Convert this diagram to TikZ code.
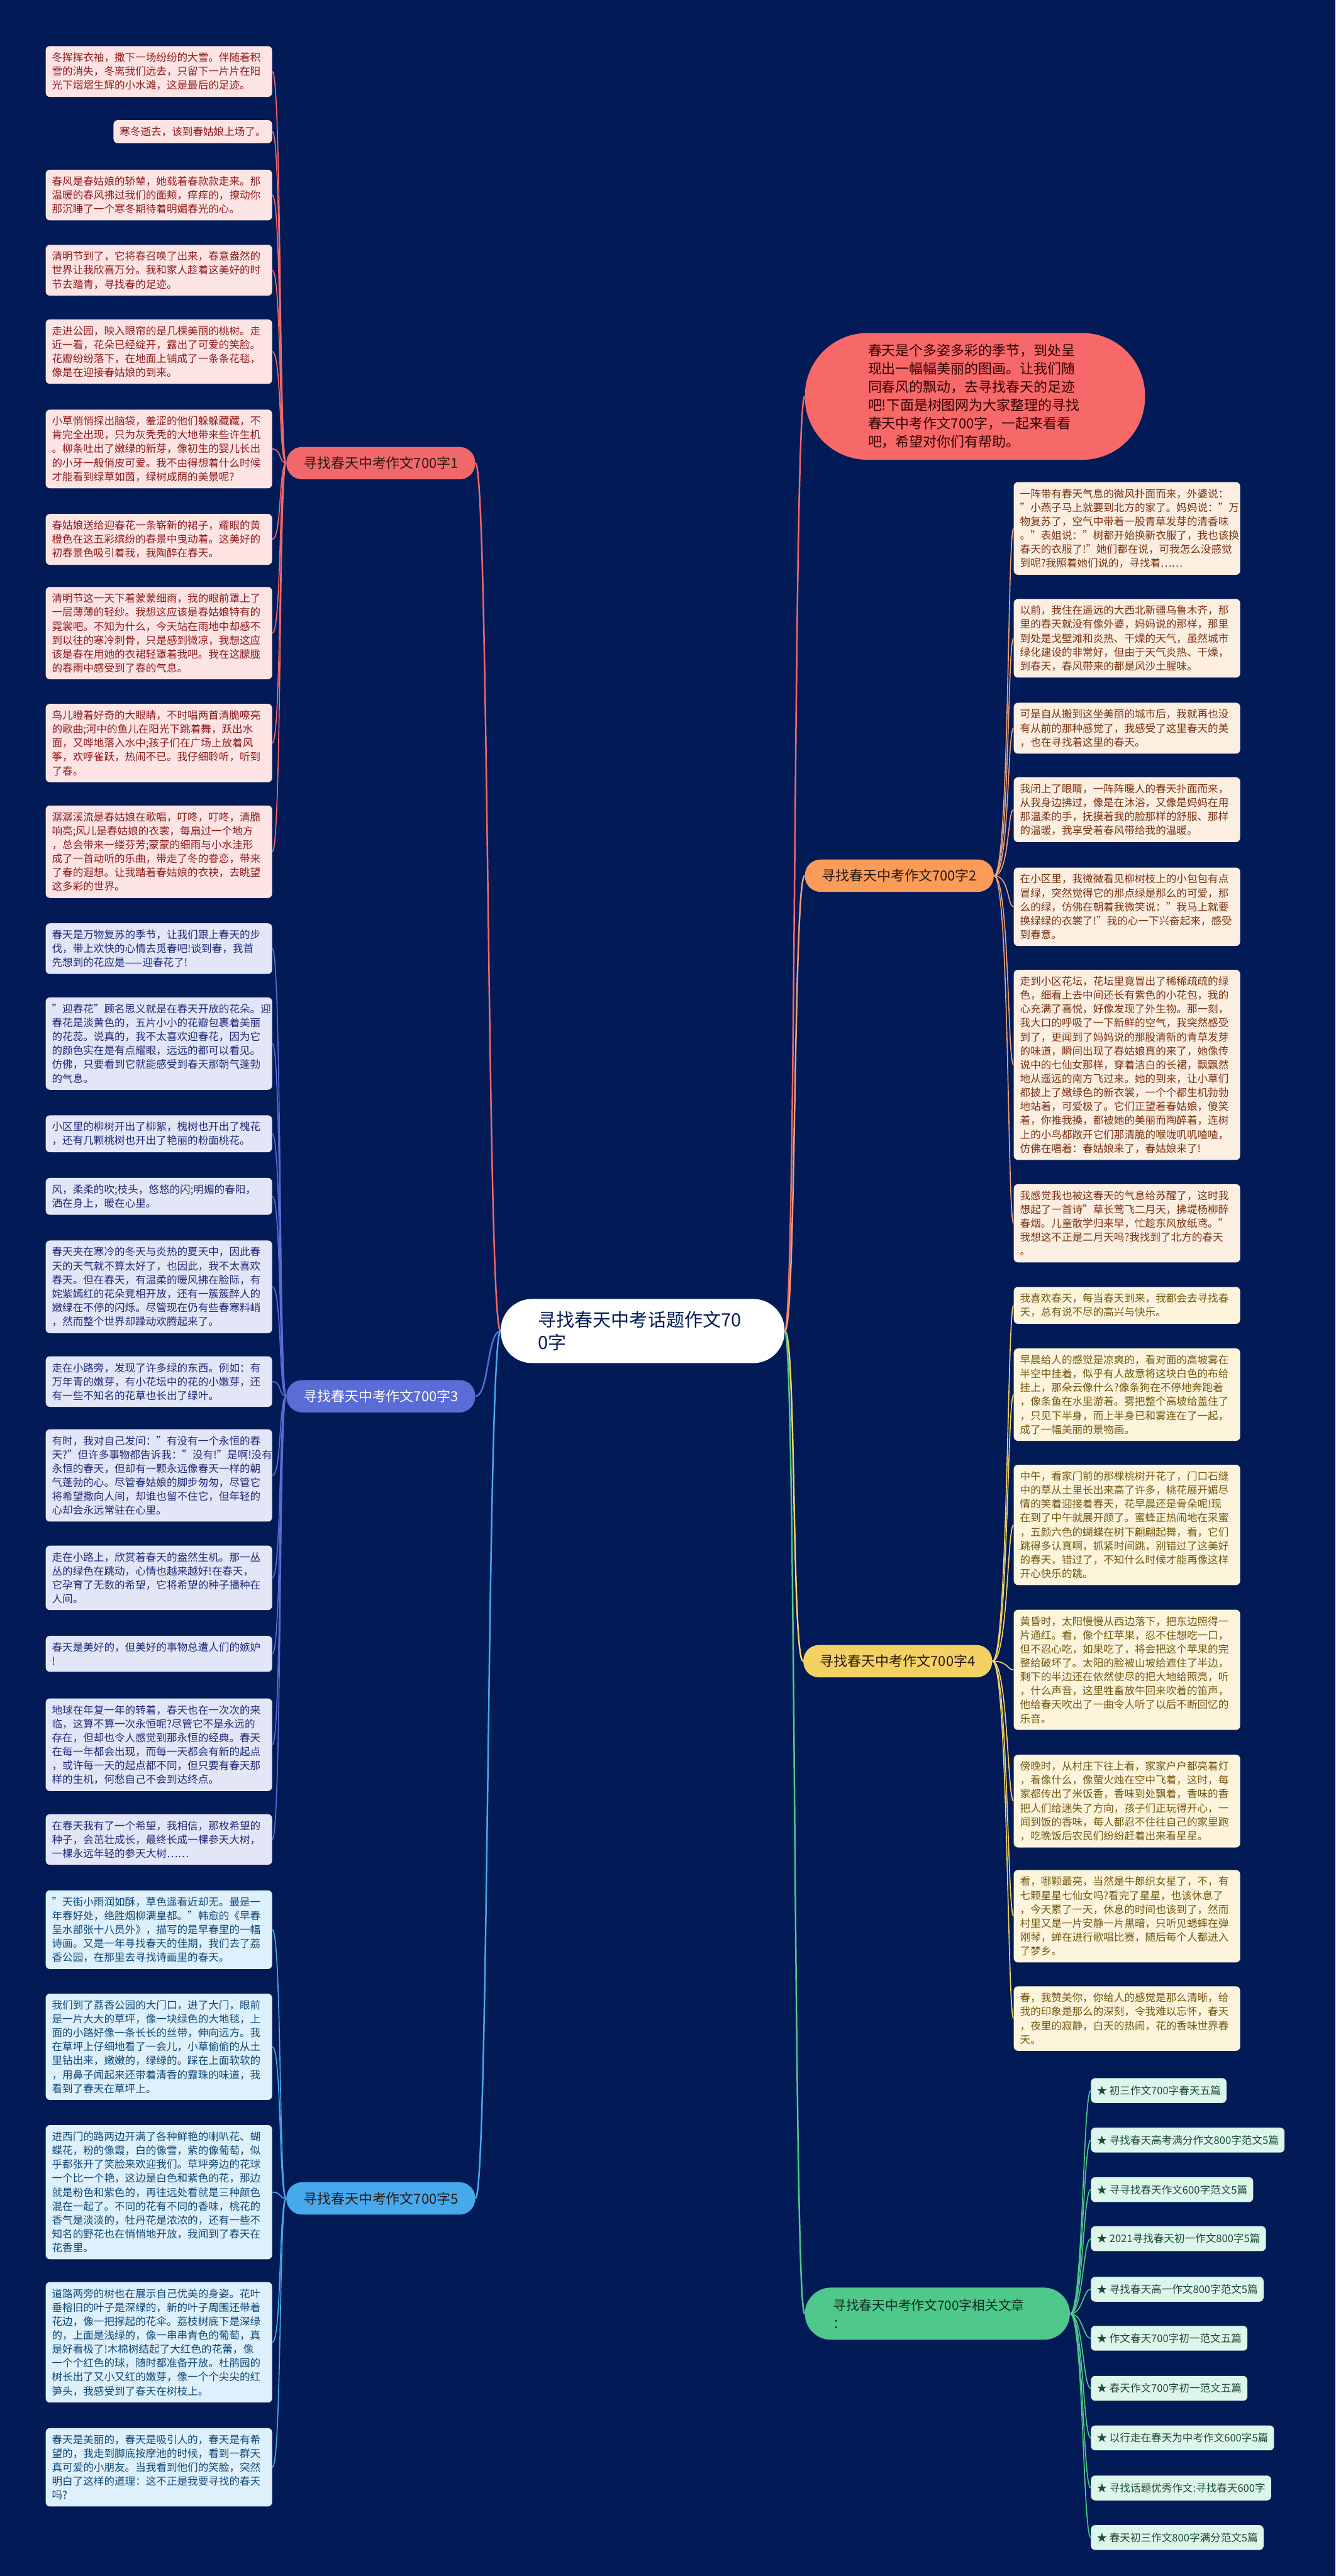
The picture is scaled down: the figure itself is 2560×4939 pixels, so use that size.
\documentclass[tikz,border=0pt]{standalone}
\usepackage{fontspec}
\setmainfont{Noto Sans CJK SC}
\definecolor{bgnavy}{HTML}{021B57}
\definecolor{lineA}{HTML}{F0686A}\definecolor{fillA}{HTML}{FDE4E4}\definecolor{textA}{HTML}{8E1B1B}
\definecolor{lineB}{HTML}{EBA077}\definecolor{fillB}{HTML}{FDEEE2}\definecolor{textB}{HTML}{7A3310}
\definecolor{lineC}{HTML}{5A6CD6}\definecolor{fillC}{HTML}{E3E6F7}\definecolor{textC}{HTML}{1F2C78}
\definecolor{lineD}{HTML}{F3D263}\definecolor{fillD}{HTML}{FCF5DC}\definecolor{textD}{HTML}{74570F}
\definecolor{lineE}{HTML}{46A9EC}\definecolor{fillE}{HTML}{DDF0FB}\definecolor{textE}{HTML}{114878}
\definecolor{lineF}{HTML}{4FC88C}\definecolor{fillF}{HTML}{DDF6EB}\definecolor{textF}{HTML}{1C4B36}
\definecolor{topicB}{HTML}{FA9C58}
\definecolor{introfill}{HTML}{F76868}
\definecolor{darkink}{HTML}{2A1A12}
\newcommand\leaffont{\fontsize{10pt}{13.35pt}\selectfont}
\newcommand\topicfont{\fontsize{13.25pt}{17.5pt}\selectfont}
\tikzset{
  wire/.style={line width=1pt},
  trunk/.style={line width=1.5pt},
  leafbase/.style={rounded corners=4pt, inner xsep=6pt, inner ysep=6.25pt, align=left, font=\leaffont},
  leaf/.style={leafbase, text width=205pt},
  lleaf/.style={leaf, anchor=north east},
  rleaf/.style={leaf, anchor=north west},
  topic/.style={rounded corners=15pt, minimum width=181pt, minimum height=31pt, font=\topicfont, text=darkink},
  link/.style={leafbase, anchor=north west, inner xsep=5.5pt, inner ysep=7.25pt, fill=fillF, text=textF}
}
\begin{document}
\begin{tikzpicture}[x=0.5pt,y=-0.5pt]
\fill[bgnavy] (0,0) rectangle (2560,4939);
\useasboundingbox (0,0) rectangle (2560,4939);

\node[fill=white, text=bgnavy, rounded corners=30pt, text width=200pt, inner xsep=36pt, minimum height=61.5pt, align=left, font=\fontsize{17.5pt}{22pt}\selectfont] (root) at (1232,2552) {寻找春天中考话题作文70\\0字};

\node[fill=introfill, text=black!80!red, rounded corners=60pt, text width=205pt, inner xsep=60.5pt, minimum height=121.5pt, align=left, font=\fontsize{13.25pt}{17.5pt}\selectfont] (intro) at (1869,760) {春天是个多姿多彩的季节，到处呈\\现出一幅幅美丽的图画。让我们随\\同春风的飘动，去寻找春天的足迹\\吧!下面是树图网为大家整理的寻找\\春天中考作文700字，一起来看看\\吧，希望对你们有帮助。};

\node[topic, fill=lineA] (b1) at (730,888) {寻找春天中考作文700字1};
\node[topic, fill=topicB] (b2) at (1724,1679) {寻找春天中考作文700字2};
\node[topic, fill=lineC, text=white] (b3) at (730,2677) {寻找春天中考作文700字3};
\node[topic, fill=lineD] (b4) at (1721,3185) {寻找春天中考作文700字4};
\node[topic, fill=lineE] (b5) at (730,4215) {寻找春天中考作文700字5};
\node[fill=lineF, text=textF!60!black, rounded corners=25pt, text width=200pt, inner xsep=27pt, minimum height=50pt, align=left, font=\fontsize{12.5pt}{17.5pt}\selectfont] (b6) at (1797,4436) {寻找春天中考作文700字相关文章\\：};

\begin{scope}[every node/.style={lleaf, fill=fillA, text=textA}]
\node (l1) at (522,88) {冬挥挥衣袖，撒下一场纷纷的大雪。伴随着积\\雪的消失，冬离我们远去，只留下一片片在阳\\光下熠熠生辉的小水滩，这是最后的足迹。};
\node[text width=] (l2) at (522,230) {寒冬逝去，该到春姑娘上场了。};
\node (l3) at (522,325) {春风是春姑娘的轿辇，她载着春款款走来。那\\温暖的春风拂过我们的面颊，痒痒的，撩动你\\那沉睡了一个寒冬期待着明媚春光的心。};
\node (l4) at (522,469) {清明节到了，它将春召唤了出来，春意盎然的\\世界让我欣喜万分。我和家人趁着这美好的时\\节去踏青，寻找春的足迹。};
\node (l5) at (522,612) {走进公园，映入眼帘的是几棵美丽的桃树。走\\近一看，花朵已经绽开，露出了可爱的笑脸。\\花瓣纷纷落下，在地面上铺成了一条条花毯，\\像是在迎接春姑娘的到来。};
\node (l6) at (522,785) {小草悄悄探出脑袋，羞涩的他们躲躲藏藏，不\\肯完全出现，只为灰秃秃的大地带来些许生机\\。柳条吐出了嫩绿的新芽，像初生的婴儿长出\\的小牙一般俏皮可爱。我不由得想着什么时候\\才能看到绿草如茵，绿树成荫的美景呢?};
\node (l7) at (522,985) {春姑娘送给迎春花一条崭新的裙子，耀眼的黄\\橙色在这五彩缤纷的春景中曳动着。这美好的\\初春景色吸引着我，我陶醉在春天。};
\node (l8) at (522,1125) {清明节这一天下着蒙蒙细雨，我的眼前罩上了\\一层薄薄的轻纱。我想这应该是春姑娘特有的\\霓裳吧。不知为什么，今天站在雨地中却感不\\到以往的寒冷刺骨，只是感到微凉，我想这应\\该是春在用她的衣裙轻罩着我吧。我在这朦胧\\的春雨中感受到了春的气息。};
\node (l9) at (522,1349) {鸟儿瞪着好奇的大眼睛，不时唱两首清脆嘹亮\\的歌曲;河中的鱼儿在阳光下跳着舞，跃出水\\面，又哗地落入水中;孩子们在广场上放着风\\筝，欢呼雀跃，热闹不已。我仔细聆听，听到\\了春。};
\node (l10) at (522,1544) {潺潺溪流是春姑娘在歌唱，叮咚，叮咚，清脆\\响亮;风儿是春姑娘的衣裳，每扇过一个地方\\，总会带来一缕芬芳;蒙蒙的细雨与小水洼形\\成了一首动听的乐曲，带走了冬的眷恋，带来\\了春的遐想。让我踏着春姑娘的衣袂，去眺望\\这多彩的世界。};
\end{scope}

\begin{scope}[every node/.style={lleaf, fill=fillC, text=textC}]
\node (l11) at (522,1770) {春天是万物复苏的季节，让我们跟上春天的步\\伐，带上欢快的心情去觅春吧!谈到春，我首\\先想到的花应是——迎春花了!};
\node (l12) at (522,1912) {"迎春花"顾名思义就是在春天开放的花朵。迎\\春花是淡黄色的，五片小小的花瓣包裹着美丽\\的花蕊。说真的，我不太喜欢迎春花，因为它\\的颜色实在是有点耀眼，远远的都可以看见。\\仿佛，只要看到它就能感受到春天那朝气蓬勃\\的气息。};
\node (l13) at (522,2138) {小区里的柳树开出了柳絮，槐树也开出了槐花\\，还有几颗桃树也开出了艳丽的粉面桃花。};
\node (l14) at (522,2258) {风，柔柔的吹;枝头，悠悠的闪;明媚的春阳，\\洒在身上，暖在心里。};
\node (l15) at (522,2378) {春天夹在寒冷的冬天与炎热的夏天中，因此春\\天的天气就不算太好了，也因此，我不太喜欢\\春天。但在春天，有温柔的暖风拂在脸际，有\\姹紫嫣红的花朵竞相开放，还有一簇簇醉人的\\嫩绿在不停的闪烁。尽管现在仍有些春寒料峭\\，然而整个世界却躁动欢腾起来了。};
\node (l16) at (522,2600) {走在小路旁，发现了许多绿的东西。例如：有\\万年青的嫩芽，有小花坛中的花的小嫩芽，还\\有一些不知名的花草也长出了绿叶。};
\node (l17) at (522,2740) {有时，我对自己发问："有没有一个永恒的春\\天?"但许多事物都告诉我："没有!"是啊!没有\\永恒的春天，但却有一颗永远像春天一样的朝\\气蓬勃的心。尽管春姑娘的脚步匆匆，尽管它\\将希望撒向人间，却谁也留不住它，但年轻的\\心却会永远常驻在心里。};
\node (l18) at (522,2963) {走在小路上，欣赏着春天的盎然生机。那一丛\\丛的绿色在跳动，心情也越来越好!在春天，\\它孕育了无数的希望，它将希望的种子播种在\\人间。};
\node (l19) at (522,3136) {春天是美好的，但美好的事物总遭人们的嫉妒\\!};
\node (l20) at (522,3256) {地球在年复一年的转着，春天也在一次次的来\\临，这算不算一次永恒呢?尽管它不是永远的\\存在，但却也令人感觉到那永恒的经典。春天\\在每一年都会出现，而每一天都会有新的起点\\，或许每一天的起点都不同，但只要有春天那\\样的生机，何愁自己不会到达终点。};
\node (l21) at (522,3478) {在春天我有了一个希望，我相信，那枚希望的\\种子，会茁壮成长，最终长成一棵参天大树，\\一棵永远年轻的参天大树……};
\end{scope}

\begin{scope}[every node/.style={lleaf, fill=fillE, text=textE}]
\node (l22) at (522,3624) {"天街小雨润如酥，草色遥看近却无。最是一\\年春好处，绝胜烟柳满皇都。"韩愈的《早春\\呈水部张十八员外》，描写的是早春里的一幅\\诗画。又是一年寻找春天的佳期，我们去了荔\\香公园，在那里去寻找诗画里的春天。};
\node (l23) at (522,3822) {我们到了荔香公园的大门口，进了大门，眼前\\是一片大大的草坪，像一块绿色的大地毯，上\\面的小路好像一条长长的丝带，伸向远方。我\\在草坪上仔细地看了一会儿，小草偷偷的从土\\里钻出来，嫩嫩的，绿绿的。踩在上面软软的\\，用鼻子闻起来还带着清香的露珠的味道，我\\看到了春天在草坪上。};
\node (l24) at (522,4074) {进西门的路两边开满了各种鲜艳的喇叭花、蝴\\蝶花，粉的像霞，白的像雪，紫的像葡萄，似\\乎都张开了笑脸来欢迎我们。草坪旁边的花球\\一个比一个艳，这边是白色和紫色的花，那边\\就是粉色和紫色的，再往远处看就是三种颜色\\混在一起了。不同的花有不同的香味，桃花的\\香气是淡淡的，牡丹花是浓浓的，还有一些不\\知名的野花也在悄悄地开放，我闻到了春天在\\花香里。};
\node (l25) at (522,4375) {道路两旁的树也在展示自己优美的身姿。花叶\\垂榕旧的叶子是深绿的，新的叶子周围还带着\\花边，像一把撑起的花伞。荔枝树底下是深绿\\的，上面是浅绿的，像一串串青色的葡萄，真\\是好看极了!木棉树结起了大红色的花蕾，像\\一个个红色的球，随时都准备开放。杜鹃园的\\树长出了又小又红的嫩芽，像一个个尖尖的红\\笋头，我感受到了春天在树枝上。};
\node (l26) at (522,4655) {春天是美丽的，春天是吸引人的，春天是有希\\望的，我走到脚底按摩池的时候，看到一群天\\真可爱的小朋友。当我看到他们的笑脸，突然\\明白了这样的道理：这不正是我要寻找的春天\\吗?};
\end{scope}

\begin{scope}[every node/.style={rleaf, fill=fillB, text=textB}]
\node (r1) at (1943,924) {一阵带有春天气息的微风扑面而来，外婆说：\\"小燕子马上就要到北方的家了。妈妈说："万\\物复苏了，空气中带着一股青草发芽的清香味\\。"表姐说："树都开始换新衣服了，我也该换\\春天的衣服了!"她们都在说，可我怎么没感觉\\到呢?我照着她们说的，寻找着……};
\node (r2) at (1943,1148) {以前，我住在遥远的大西北新疆乌鲁木齐，那\\里的春天就没有像外婆，妈妈说的那样，那里\\到处是戈壁滩和炎热、干燥的天气，虽然城市\\绿化建设的非常好，但由于天气炎热、干燥，\\到春天，春风带来的都是风沙土腥味。};
\node (r3) at (1943,1347) {可是自从搬到这坐美丽的城市后，我就再也没\\有从前的那种感觉了，我感受了这里春天的美\\，也在寻找着这里的春天。};
\node (r4) at (1943,1490) {我闭上了眼睛，一阵阵暖人的春天扑面而来，\\从我身边拂过，像是在沐浴，又像是妈妈在用\\那温柔的手，抚摸着我的脸那样的舒服、那样\\的温暖，我享受着春风带给我的温暖。};
\node (r5) at (1943,1663) {在小区里，我微微看见柳树枝上的小包包有点\\冒绿，突然觉得它的那点绿是那么的可爱，那\\么的绿，仿佛在朝着我微笑说："我马上就要\\换绿绿的衣裳了!"我的心一下兴奋起来，感受\\到春意。};
\node (r6) at (1943,1859) {走到小区花坛，花坛里竟冒出了稀稀疏疏的绿\\色，细看上去中间还长有紫色的小花包，我的\\心充满了喜悦，好像发现了外生物。那一刻，\\我大口的呼吸了一下新鲜的空气，我突然感受\\到了，更闻到了妈妈说的那股清新的青草发芽\\的味道，瞬间出现了春姑娘真的来了，她像传\\说中的七仙女那样，穿着洁白的长裙，飘飘然\\地从遥远的南方飞过来。她的到来，让小草们\\都披上了嫩绿色的新衣裳，一个个都生机勃勃\\地站着，可爱极了。它们正望着春姑娘，傻笑\\着，你推我搡，都被她的美丽而陶醉着，连树\\上的小鸟都敞开它们那清脆的喉咙叽叽喳喳，\\仿佛在唱着：春姑娘来了，春姑娘来了!};
\node (r7) at (1943,2270) {我感觉我也被这春天的气息给苏醒了，这时我\\想起了一首诗"草长莺飞二月天，拂堤杨柳醉\\春烟。儿童散学归来早，忙趁东风放纸鸢。"\\我想这不正是二月天吗?我找到了北方的春天\\。};
\end{scope}

\begin{scope}[every node/.style={rleaf, fill=fillD, text=textD}]
\node (r8) at (1943,2467) {我喜欢春天，每当春天到来，我都会去寻找春\\天，总有说不尽的高兴与快乐。};
\node (r9) at (1943,2585) {早晨给人的感觉是凉爽的，看对面的高坡雾在\\半空中挂着，似乎有人故意将这块白色的布给\\挂上，那朵云像什么?像条狗在不停地奔跑着\\，像条鱼在水里游着。雾把整个高坡给盖住了\\，只见下半身，而上半身已和雾连在了一起，\\成了一幅美丽的景物画。};
\node (r10) at (1943,2808) {中午，看家门前的那棵桃树开花了，门口石缝\\中的草从土里长出来高了许多，桃花展开媚尽\\情的笑着迎接着春天，花早晨还是骨朵呢!现\\在到了中午就展开颜了。蜜蜂正热闹地在采蜜\\，五颜六色的蝴蝶在树下翩翩起舞，看，它们\\跳得多认真啊，抓紧时间跳，别错过了这美好\\的春天，错过了，不知什么时候才能再像这样\\开心快乐的跳。};
\node (r11) at (1943,3086) {黄昏时，太阳慢慢从西边落下，把东边照得一\\片通红。看，像个红苹果，忍不住想吃一口，\\但不忍心吃，如果吃了，将会把这个苹果的完\\整给破坏了。太阳的脸被山坡给遮住了半边，\\剩下的半边还在依然使尽的把大地给照亮，听\\，什么声音，这里牲畜放牛回来吹着的笛声，\\他给春天吹出了一曲令人听了以后不断回忆的\\乐音。};
\node (r12) at (1943,3364) {傍晚时，从村庄下往上看，家家户户都亮着灯\\，看像什么，像萤火烛在空中飞着，这时，每\\家都传出了米饭香，香味到处飘着，香味的香\\把人们给迷失了方向，孩子们正玩得开心，一\\闻到饭的香味，每人都忍不住往自己的家里跑\\，吃晚饭后农民们纷纷赶着出来看星星。};
\node (r13) at (1943,3585) {看，哪颗最亮，当然是牛郎织女星了，不，有\\七颗星星七仙女吗?看完了星星，也该休息了\\，今天累了一天，休息的时间也该到了，然而\\村里又是一片安静一片黑暗，只听见蟋蟀在弹\\刚琴，蝉在进行歌唱比赛，随后每个人都进入\\了梦乡。};
\node (r14) at (1943,3808) {春，我赞美你，你给人的感觉是那么清晰，给\\我的印象是那么的深刻，令我难以忘怀，春天\\，夜里的寂静，白天的热闹，花的香味世界春\\天。};
\end{scope}

\node[link] (k1) at (2091,3984) {★ 初三作文700字春天五篇};
\node[link] (k2) at (2091,4079) {★ 寻找春天高考满分作文800字范文5篇};
\node[link] (k3) at (2091,4174) {★ 寻寻找春天作文600字范文5篇};
\node[link] (k4) at (2091,4268) {★ 2021寻找春天初一作文800字5篇};
\node[link] (k5) at (2091,4365) {★ 寻找春天高一作文800字范文5篇};
\node[link] (k6) at (2091,4459) {★ 作文春天700字初一范文五篇};
\node[link] (k7) at (2091,4555) {★ 春天作文700字初一范文五篇};
\node[link] (k8) at (2091,4650) {★ 以行走在春天为中考作文600字5篇};
\node[link] (k9) at (2091,4746) {★ 寻找话题优秀作文:寻找春天600字};
\node[link] (k10) at (2091,4841) {★ 春天初三作文800字满分范文5篇};

\draw[trunk, lineA] (root.east) .. controls +(22,0) and +(-22,0) .. (intro.west);
\draw[trunk, lineA] (root.west) .. controls +(-26,0) and +(26,0) .. (b1.east);
\draw[trunk, lineB] (root.east) .. controls +(22,0) and +(-22,0) .. (b2.west);
\draw[trunk, lineC] (root.west) .. controls +(-26,0) and +(26,0) .. (b3.east);
\draw[trunk, lineD] (root.east) .. controls +(22,0) and +(-22,0) .. (b4.west);
\draw[trunk, lineE] (root.west) .. controls +(-26,0) and +(26,0) .. (b5.east);
\draw[trunk, lineF] (root.east) .. controls +(22,0) and +(-22,0) .. (b6.west);

\foreach \n in {l1,l2,l3,l4,l5,l6,l7,l8,l9,l10}
  \draw[wire, lineA] (b1.west) .. controls +(-14,0) and +(18,0) .. (\n.east);
\foreach \n in {l11,l12,l13,l14,l15,l16,l17,l18,l19,l20,l21}
  \draw[wire, lineC] (b3.west) .. controls +(-14,0) and +(18,0) .. (\n.east);
\foreach \n in {l22,l23,l24,l25,l26}
  \draw[wire, lineE] (b5.west) .. controls +(-14,0) and +(18,0) .. (\n.east);
\foreach \n in {r1,r2,r3,r4,r5,r6,r7}
  \draw[wire, lineB] (b2.east) .. controls +(30,0) and +(-12,0) .. (\n.west);
\foreach \n in {r8,r9,r10,r11,r12,r13,r14}
  \draw[wire, lineD] (b4.east) .. controls +(30,0) and +(-12,0) .. (\n.west);
\foreach \n in {k1,k2,k3,k4,k5,k6,k7,k8,k9,k10}
  \draw[wire, lineF] (b6.east) .. controls +(25,0) and +(-15,0) .. (\n.west);
\end{tikzpicture}
\end{document}
